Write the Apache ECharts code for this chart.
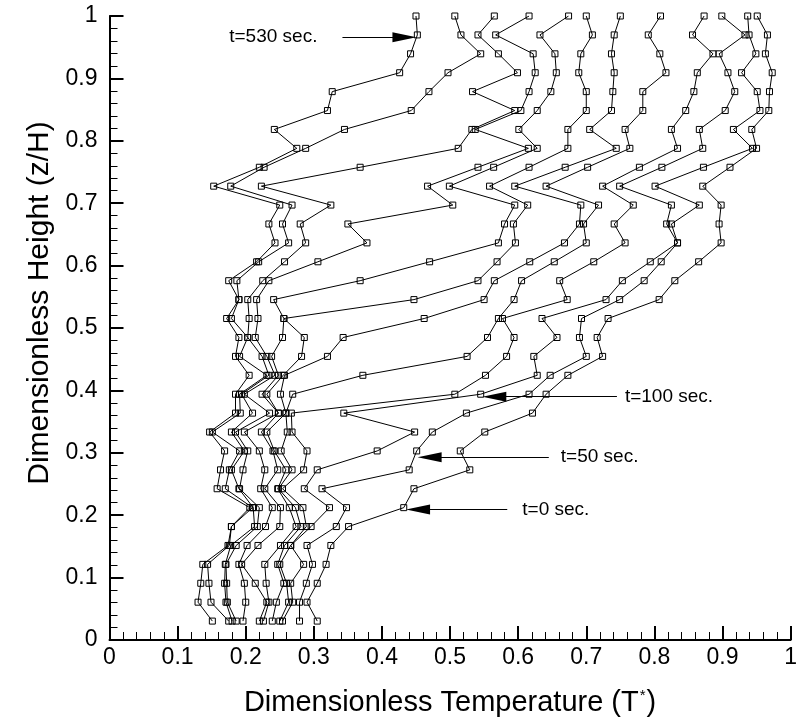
<!DOCTYPE html>
<html><head><meta charset="utf-8">
<script src="https://cdn.jsdelivr.net/npm/echarts@6/dist/echarts.min.js"></script>
<style>html,body{margin:0;padding:0;background:#fff}#c{width:800px;height:724px}</style>
</head><body><div id="c"></div>
<script>
// Dimensionless heights of the measurement levels (bottom to top)
const zLevels = [0.0303,0.0606,0.0909,0.1212,0.1515,0.1818,0.2121,0.2424,0.2727,0.3030,0.3333,0.3636,0.3939,0.4242,0.4545,0.4848,0.5152,0.5455,0.5758,0.6061,0.6364,0.6667,0.6970,0.7273,0.7576,0.7879,0.8182,0.8485,0.8788,0.9091,0.9394,0.9697,1.0];

// Temperature profiles (T*), listed bottom to top, from the coldest (t=530 s) to the hottest (t=0 s)
const profile01 = [0.151,0.130,0.134,0.137,0.174,0.179,0.206,0.158,0.163,0.169,0.147,0.185,0.185,0.205,0.185,0.190,0.172,0.190,0.175,0.216,0.243,0.234,0.250,0.153,0.220,0.275,0.242,0.320,0.327,0.426,0.442,0.452,0.450];
const profile02 = [0.175,0.149,0.146,0.144,0.176,0.179,0.210,0.170,0.176,0.191,0.151,0.192,0.191,0.231,0.191,0.203,0.179,0.190,0.187,0.219,0.263,0.254,0.268,0.178,0.227,0.288,0.345,0.443,0.469,0.497,0.545,0.516,0.507];
const profile03 = [0.180,0.171,0.169,0.170,0.178,0.213,0.211,0.190,0.179,0.198,0.179,0.210,0.194,0.234,0.224,0.203,0.205,0.203,0.225,0.257,0.288,0.280,0.325,0.223,0.368,0.512,0.532,0.595,0.533,0.599,0.571,0.541,0.565];
const profile04 = [0.186,0.173,0.172,0.171,0.186,0.217,0.220,0.191,0.196,0.203,0.185,0.235,0.198,0.243,0.231,0.214,0.218,0.216,0.234,0.306,0.378,0.350,0.504,0.467,0.541,0.615,0.537,0.604,0.616,0.625,0.622,0.567,0.616];
const profile05 = [0.196,0.200,0.198,0.190,0.202,0.229,0.239,0.222,0.228,0.220,0.198,0.248,0.224,0.248,0.238,0.254,0.256,0.241,0.368,0.470,0.571,0.580,0.595,0.499,0.564,0.628,0.601,0.628,0.648,0.656,0.654,0.632,0.674];
const profile06 = [0.220,0.231,0.214,0.194,0.218,0.250,0.251,0.228,0.247,0.240,0.223,0.248,0.231,0.255,0.282,0.286,0.256,0.447,0.541,0.569,0.596,0.593,0.614,0.558,0.616,0.673,0.673,0.700,0.700,0.689,0.692,0.709,0.700];
const profile07 = [0.226,0.234,0.230,0.228,0.251,0.274,0.264,0.247,0.259,0.242,0.231,0.259,0.251,0.257,0.320,0.343,0.462,0.550,0.565,0.617,0.668,0.690,0.692,0.595,0.669,0.744,0.705,0.737,0.739,0.741,0.737,0.741,0.750];
const profile08 = [0.239,0.245,0.256,0.247,0.257,0.281,0.273,0.248,0.268,0.252,0.261,0.259,0.269,0.372,0.525,0.555,0.571,0.594,0.605,0.653,0.700,0.696,0.718,0.641,0.702,0.764,0.757,0.783,0.783,0.817,0.808,0.791,0.809];
const profile09 = [0.250,0.263,0.260,0.250,0.266,0.289,0.284,0.254,0.285,0.290,0.268,0.267,0.507,0.552,0.583,0.594,0.577,0.672,0.661,0.711,0.757,0.741,0.769,0.724,0.778,0.834,0.825,0.846,0.858,0.863,0.886,0.856,0.873];
const profile10 = [0.254,0.269,0.266,0.285,0.266,0.296,0.323,0.286,0.305,0.393,0.448,0.344,0.545,0.628,0.623,0.657,0.635,0.729,0.753,0.794,0.834,0.818,0.825,0.749,0.811,0.871,0.866,0.904,0.918,0.908,0.895,0.933,0.899];
const profile11 = [0.279,0.279,0.289,0.298,0.290,0.333,0.348,0.312,0.440,0.451,0.474,0.524,0.616,0.647,0.700,0.690,0.693,0.749,0.785,0.810,0.834,0.825,0.866,0.801,0.872,0.944,0.916,0.955,0.951,0.928,0.949,0.939,0.937];
const profile12 = [0.305,0.290,0.305,0.318,0.325,0.351,0.432,0.447,0.529,0.515,0.551,0.621,0.641,0.673,0.724,0.716,0.732,0.807,0.830,0.865,0.898,0.895,0.898,0.871,0.911,0.950,0.943,0.968,0.969,0.973,0.963,0.966,0.951];

// Annotation arrows: label, tail T, head T, height z, label gap
const arrowLabels = ['t=530 sec.','t=100 sec.','t=50 sec.','t=0 sec.'];
const arrowTail   = [0.342, 0.745, 0.645, 0.584];
const arrowHead   = [0.433, 0.565, 0.470, 0.453];
const arrowZ      = [0.966, 0.390, 0.293, 0.209];
const arrowGap    = [25, 8, 12, 15];

const profiles = [profile01,profile02,profile03,profile04,profile05,profile06,profile07,profile08,profile09,profile10,profile11,profile12];
const FONT = 'Liberation Sans, Arial, sans-serif';

const series = profiles.map(vals => ({
  type: 'line',
  data: vals.map((t, j) => [t, zLevels[j]]),
  symbol: 'rect', symbolSize: 6, showAllSymbol: true,
  lineStyle: {color: '#000', width: 1},
  itemStyle: {color: 'rgba(255,255,255,0)', borderColor: '#000', borderWidth: 1},
  emphasis: {disabled: true}, silent: true, animation: false
}));

series.push({
  type: 'line', data: [], silent: true, animation: false,
  markLine: {
    silent: true, animation: false,
    symbol: ['none', 'triangle'], symbolSize: [10, 24],
    lineStyle: {color: '#000', width: 1, type: 'solid'},
    itemStyle: {color: '#000'},
    label: {show: true, position: 'start', color: '#000', fontSize: 19, fontFamily: FONT},
    emphasis: {disabled: true},
    data: arrowLabels.map((txt, i) => [
      {coord: [arrowTail[i], arrowZ[i]], label: {formatter: txt, distance: arrowGap[i]}},
      {coord: [arrowHead[i], arrowZ[i]]}
    ])
  }
});

const axisCommon = {
  type: 'value', min: 0, max: 1, interval: 0.1,
  axisLine: {show: true, onZero: false, lineStyle: {color: '#000', width: 2}},
  axisTick: {show: true, inside: true, length: 14, lineStyle: {color: '#000', width: 2}},
  minorTick: {show: true, splitNumber: 5, length: 8, lineStyle: {color: '#000', width: 1}},
  splitLine: {show: false},
  minorSplitLine: {show: false},
  nameLocation: 'middle'
};

const chart = echarts.init(document.getElementById('c'));
chart.setOption({
  animation: false,
  backgroundColor: '#fff',
  grid: {left: 109.5, right: 7, top: 16, bottom: 84},
  xAxis: Object.assign({}, axisCommon, {
    axisLabel: {color: '#000', fontSize: 23, fontFamily: FONT, margin: 6},
    name: 'Dimensionless Temperature (T{sup|*})', nameGap: 48,
    nameTextStyle: {color: '#000', fontSize: 29, fontFamily: FONT,
      rich: {sup: {fontSize: 15, fontFamily: FONT, color: '#000', verticalAlign: 'top', padding: [0, 1, 15, 1]}}}
  }),
  yAxis: Object.assign({}, axisCommon, {
    axisLabel: {color: '#000', fontSize: 23, fontFamily: FONT, margin: 12},
    name: 'Dimensionless Height (z/H)', nameGap: 54,
    nameTextStyle: {color: '#000', fontSize: 30, fontFamily: FONT, padding: [0, 0, 0, 50]}
  }),
  series: series
});
</script>
</body></html>
